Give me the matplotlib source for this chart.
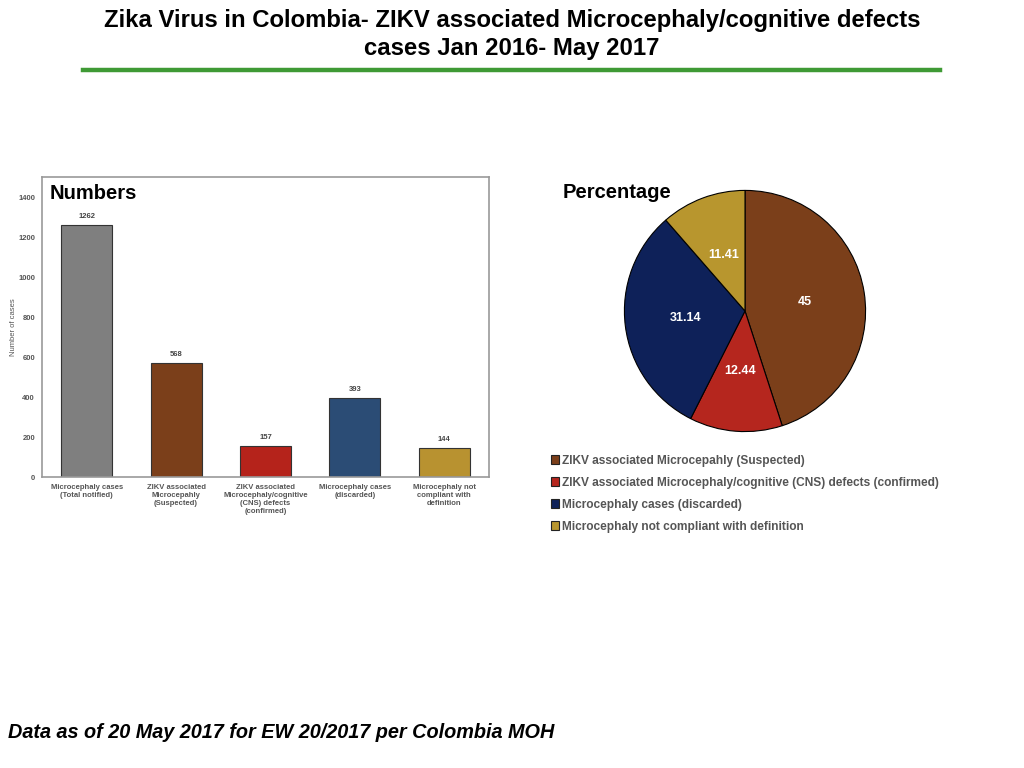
import matplotlib.pyplot as plt
import matplotlib.patches as patches
from matplotlib.lines import Line2D

plt.rcParams['font.family'] = ['Liberation Sans', 'DejaVu Sans']

# bar chart data
bar_labels = ['Microcephaly cases\n(Total notified)',
              'ZIKV associated\nMicrocepahly\n(Suspected)',
              'ZIKV associated\nMicrocephaly/cognitive\n(CNS) defects\n(confirmed)',
              'Microcephaly cases\n(discarded)',
              'Microcephaly not\ncompliant with\ndefinition']
bar_values = [1262, 568, 157, 393, 144]
bar_colors = ['#7f7f7f', '#7b3f1a', '#b5231b', '#2b4c75', '#b89230']
y_ticks = [0, 200, 400, 600, 800, 1000, 1200, 1400]

# pie chart data
pie_labels = ['ZIKV associated Microcepahly (Suspected)',
              'ZIKV associated Microcephaly/cognitive (CNS) defects (confirmed)',
              'Microcephaly cases (discarded)',
              'Microcephaly not compliant with definition']
pie_values = [45, 12.44, 31.14, 11.41]
pie_texts = ['45', '12.44', '31.14', '11.41']
pie_colors = ['#7b3f1a', '#b5261e', '#0e2159', '#b8962e']

W, H = 1024, 768
fig = plt.figure(figsize=(W / 100, H / 100), dpi=100)

# title + green rule
fig.text(0.5, 1 - 21 / H, 'Zika Virus in Colombia- ZIKV associated Microcephaly/cognitive defects',
         ha='center', va='center', fontsize=17.2, fontweight='bold')
fig.text(0.5, 1 - 49 / H, 'cases Jan 2016- May 2017',
         ha='center', va='center', fontsize=17.2, fontweight='bold')
fig.add_artist(Line2D([83 / W, 940 / W], [1 - 70 / H, 1 - 70 / H],
                      color='#3f9a35', linewidth=3.2, transform=fig.transFigure))

# bar chart
ax = fig.add_axes([42 / W, 1 - 477 / H, (489 - 42) / W, (477 - 177) / H])
x = list(range(len(bar_values)))
ax.bar(x, bar_values, width=0.57, color=bar_colors, edgecolor='#333333', linewidth=0.8)
for xi, v in zip(x, bar_values):
    ax.text(xi, v + 25, str(v), ha='center', va='bottom', fontsize=5.5,
            fontweight='bold', color='#444444')
ax.set_xlim(-0.5, 4.5)
ax.set_ylim(0, 1500)
ax.set_yticks(y_ticks)
ax.set_yticklabels([str(t) for t in y_ticks], fontsize=5.5, fontweight='bold', color='#555555')
ax.set_xticks(x)
ax.set_xticklabels(bar_labels, fontsize=5.5, fontweight='bold', color='#555555', va='top')
ax.tick_params(length=0, pad=5)
ax.tick_params(axis='y', pad=5)
ax.set_ylabel('Number of cases', fontsize=5.5, color='#555555')
ax.yaxis.set_label_coords(-0.055, 0.5)
for s in ax.spines.values():
    s.set_color('#999999')
    s.set_linewidth(1.2)
ax.text(0.018, 0.945, 'Numbers', transform=ax.transAxes, fontsize=14.5,
        fontweight='bold', ha='left', va='center')

# pie chart
r = 123
cx, cy = 745, 311
pax = fig.add_axes([(cx - r) / W, 1 - (cy + r) / H, 2 * r / W, 2 * r / H])
wedges, texts = pax.pie(pie_values, colors=pie_colors, startangle=90, counterclock=False,
                        labels=pie_texts, labeldistance=0.5,
                        wedgeprops=dict(edgecolor='black', linewidth=0.8),
                        textprops=dict(color='white', fontsize=9, fontweight='bold'))
for t in texts:
    t.set_ha('center')
    t.set_va('center')
pax.set_xlim(-1.02, 1.02)
pax.set_ylim(-1.02, 1.02)
pax.set_aspect('equal')
fig.text(563 / W, 1 - 193 / H, 'Percentage', fontsize=14.5, fontweight='bold',
         ha='left', va='center')

handles = [patches.Patch(facecolor=c, edgecolor='#222222', linewidth=0.8) for c in pie_colors]
leg = fig.legend(handles, pie_labels, loc='upper left', bbox_to_anchor=(546 / W, 1 - 450 / H),
                 frameon=False, fontsize=8.6, handlelength=0.7, handleheight=0.7,
                 handletextpad=0.25, labelspacing=0.83, borderaxespad=0)
for t in leg.get_texts():
    t.set_color('#555555')
    t.set_fontweight('bold')

fig.text(8 / W, 1 - 733 / H, 'Data as of 20 May 2017 for EW 20/2017 per Colombia MOH',
         fontsize=14.3, fontweight='bold', fontstyle='italic', ha='left', va='center')

fig.savefig('out.png', dpi=100)
